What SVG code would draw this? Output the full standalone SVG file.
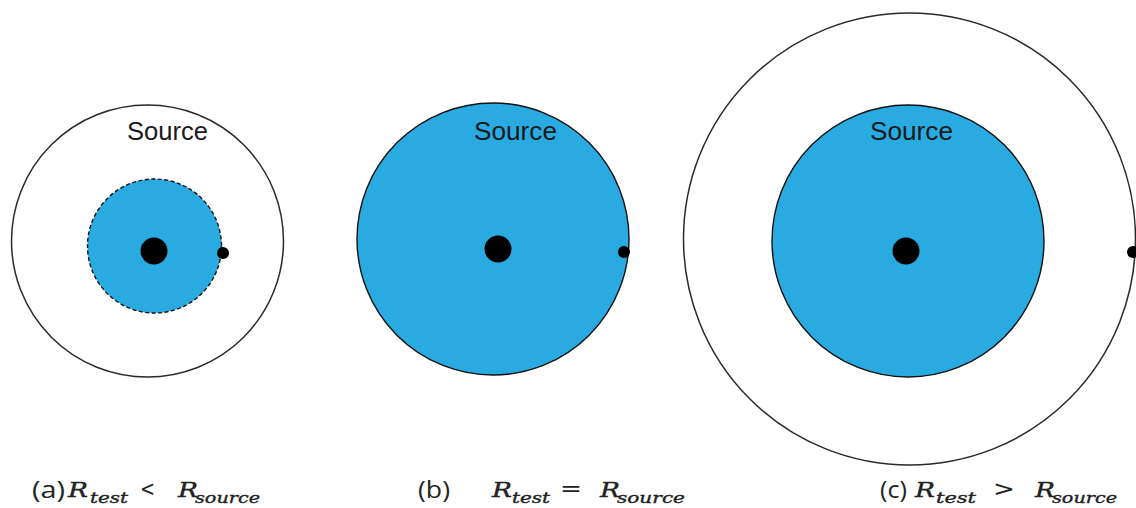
<svg xmlns="http://www.w3.org/2000/svg" width="1136" height="508" viewBox="0 0 1136 508">
<style>
.ring{fill:#ffffff;stroke:#2a2a2a;stroke-width:1.5}
.src{fill:#29abe2;stroke:#111;stroke-width:1.4}
.dash{stroke-dasharray:4 2.5}
.dot{fill:#000}
.lbl{font-family:"Liberation Sans",Arial,sans-serif;font-size:25px;fill:#1a1a1a}
.cap{font-family:"Open Sans","Liberation Sans",sans-serif;font-size:23px;fill:#222}
.m{font-family:"DejaVu Serif","Liberation Serif",serif;font-style:italic;font-size:21px;fill:#222;stroke:#222;stroke-width:0.4}
.sub{font-family:"DejaVu Serif","Liberation Serif",serif;font-style:italic;font-size:14px;fill:#222;stroke:#222;stroke-width:0.35}
.op{font-family:"DejaVu Sans","Liberation Sans",sans-serif;font-size:21px;fill:#222}
</style>
<rect width="1136" height="508" fill="#fff"/>
<g id="panel-a">
<circle class="ring" cx="147.5" cy="241" r="136"/>
<circle class="src dash" cx="154.5" cy="246" r="67"/>
<circle class="dot" cx="154" cy="251" r="13.5"/>
<circle class="dot" cx="223" cy="253" r="6"/>
<text class="lbl" x="127" y="140" textLength="81" lengthAdjust="spacingAndGlyphs">Source</text>
</g>
<g id="panel-b">
<circle class="src" cx="493" cy="239" r="136"/>
<circle class="dot" cx="498" cy="249" r="13.5"/>
<circle class="dot" cx="624" cy="252" r="6"/>
<text class="lbl" x="474" y="140" textLength="83" lengthAdjust="spacingAndGlyphs">Source</text>
</g>
<g id="panel-c">
<circle class="ring" cx="909.5" cy="239" r="226"/>
<circle class="src" cx="908" cy="241" r="136"/>
<circle class="dot" cx="906" cy="251" r="13.5"/>
<circle class="dot" cx="1133" cy="252" r="6"/>
<text class="lbl" x="870" y="140" textLength="83" lengthAdjust="spacingAndGlyphs">Source</text>
</g>
<g id="captions">
<text class="cap" x="32" y="498" textLength="33" lengthAdjust="spacingAndGlyphs">(a)</text>
<text class="m" x="68" y="497" textLength="20" lengthAdjust="spacingAndGlyphs">R</text>
<text class="sub" x="90" y="503" textLength="38" lengthAdjust="spacingAndGlyphs">test</text>
<text class="op" x="140" y="496" textLength="15" lengthAdjust="spacingAndGlyphs">&lt;</text>
<text class="m" x="178" y="497" textLength="20" lengthAdjust="spacingAndGlyphs">R</text>
<text class="sub" x="195" y="503" textLength="65" lengthAdjust="spacingAndGlyphs">source</text>

<text class="cap" x="418" y="498" textLength="32" lengthAdjust="spacingAndGlyphs">(b)</text>
<text class="m" x="492" y="497" textLength="20" lengthAdjust="spacingAndGlyphs">R</text>
<text class="sub" x="512" y="503" textLength="38" lengthAdjust="spacingAndGlyphs">test</text>
<text class="op" x="560" y="496" textLength="22" lengthAdjust="spacingAndGlyphs">=</text>
<text class="m" x="600" y="497" textLength="20" lengthAdjust="spacingAndGlyphs">R</text>
<text class="sub" x="617" y="503" textLength="68" lengthAdjust="spacingAndGlyphs">source</text>

<text class="cap" x="880" y="498" textLength="27" lengthAdjust="spacingAndGlyphs">(c)</text>
<text class="m" x="915" y="497" textLength="20" lengthAdjust="spacingAndGlyphs">R</text>
<text class="sub" x="936" y="503" textLength="40" lengthAdjust="spacingAndGlyphs">test</text>
<text class="op" x="993" y="496" textLength="22" lengthAdjust="spacingAndGlyphs">&gt;</text>
<text class="m" x="1035" y="497" textLength="20" lengthAdjust="spacingAndGlyphs">R</text>
<text class="sub" x="1052" y="503" textLength="65" lengthAdjust="spacingAndGlyphs">source</text>
</g>
</svg>
